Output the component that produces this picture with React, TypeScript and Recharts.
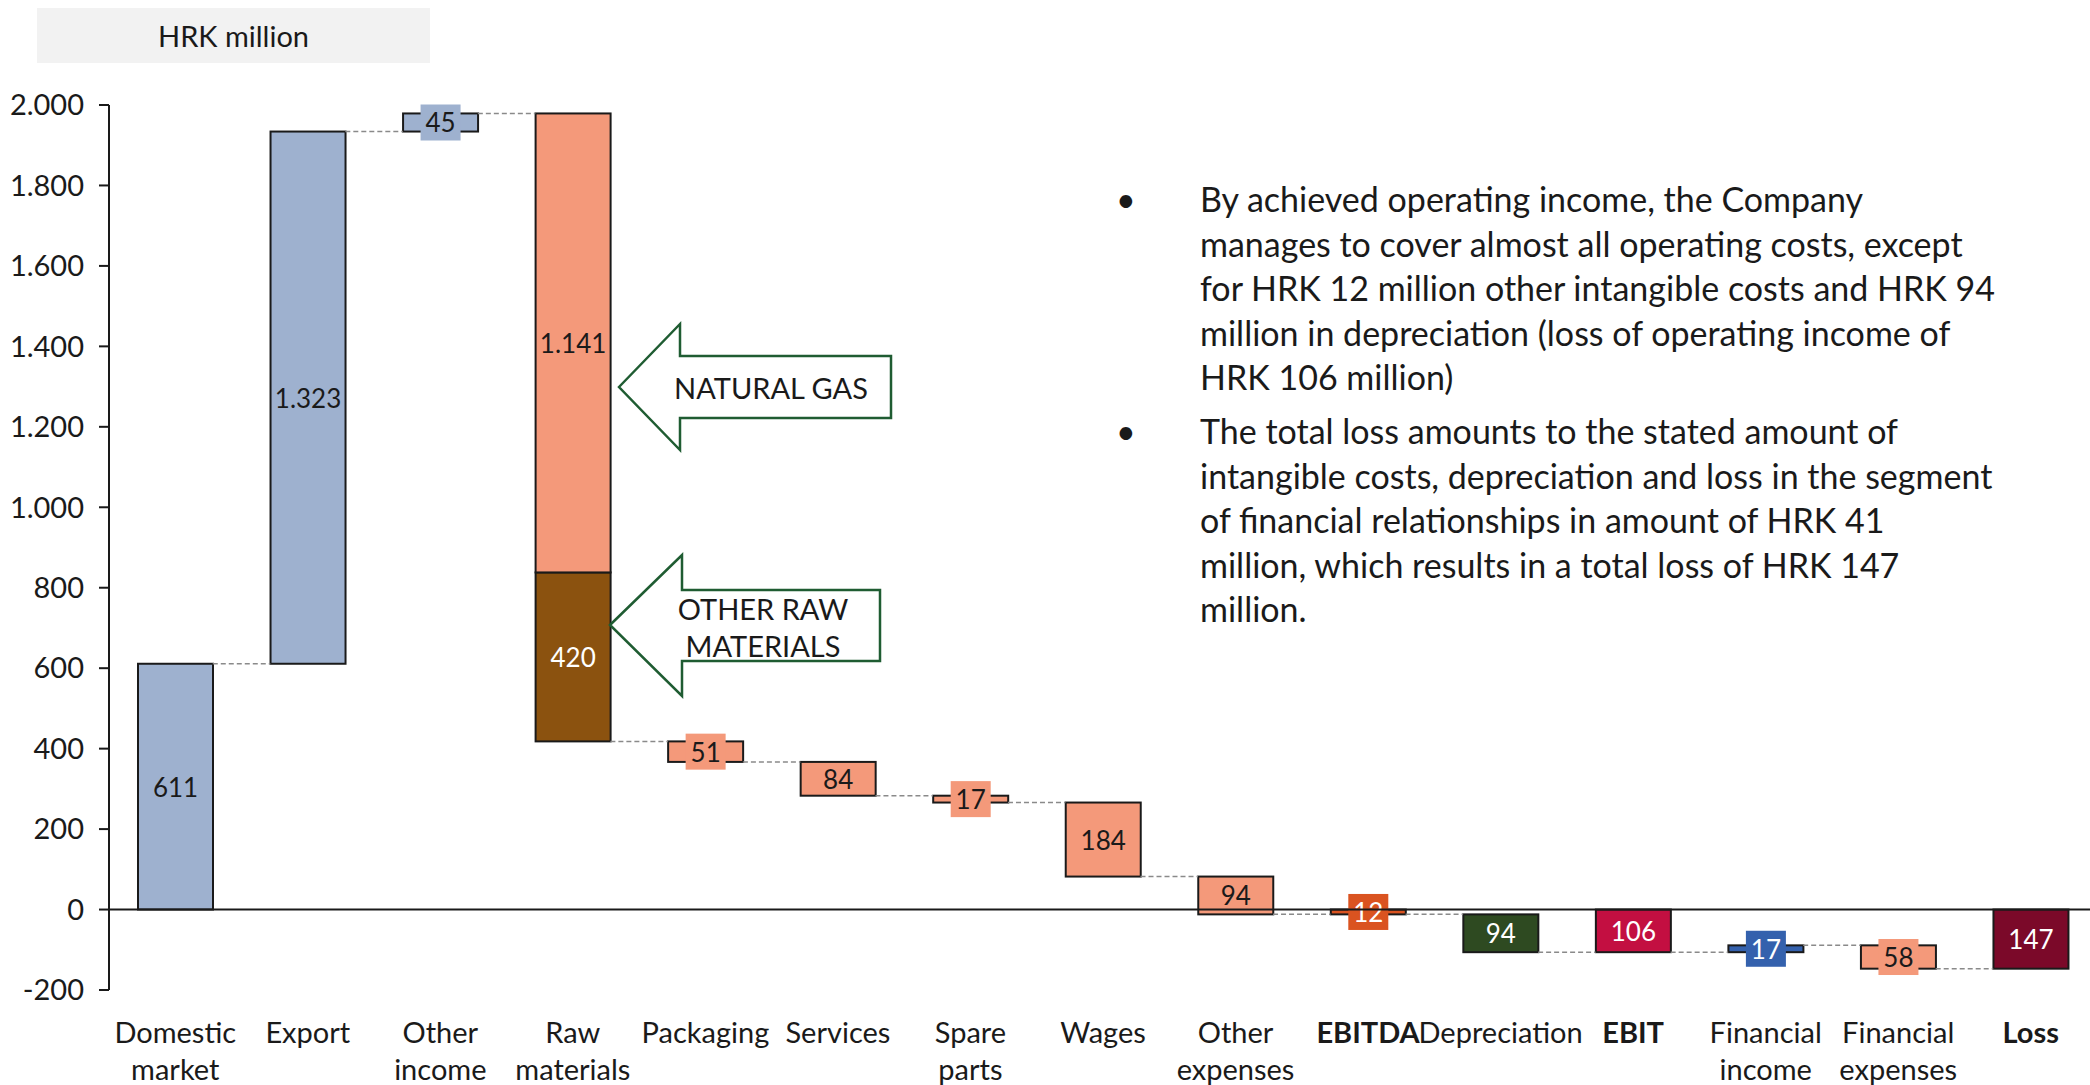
import React from 'react'
import { ComposedChart, Bar, Line, XAxis, YAxis, ReferenceLine } from 'recharts'

const categories = [
    'Domestic\nmarket', 'Export', 'Other\nincome', 'Raw\nmaterials', 'Packaging', 'Services', 'Spare\nparts',
    'Wages', 'Other\nexpenses', 'EBITDA', 'Depreciation', 'EBIT', 'Financial\nincome', 'Financial\nexpenses', 'Loss',
]
const naturalGas = 1141
const otherRawMaterials = 420
const amounts = [611, 1323, 45, -(naturalGas + otherRawMaterials), -51, -84, -17, -184, -94, -12, -94, -106, 17, -58, -147]
const subtotal = [false, false, false, false, false, false, false, false, false, true, false, true, false, false, true]
const yTicks = [-200, 0, 200, 400, 600, 800, 1000, 1200, 1400, 1600, 1800, 2000]
const xDomain = [-0.5, categories.length - 0.5]

const notes = [
    [
        'By achieved operating income, the Company',
        'manages to cover almost all operating costs, except',
        'for HRK 12 million other intangible costs and HRK 94',
        'million in depreciation (loss of operating income of',
        'HRK 106 million)',
    ],
    [
        'The total loss amounts to the stated amount of',
        'intangible costs, depreciation and loss in the segment',
        'of financial relationships in amount of HRK 41',
        'million, which results in a total loss of HRK 147',
        'million.',
    ],
]

// styles
const INK = '#1a1a1a'
const SALMON = '#F4997A'
const BLUEGREY = '#9EB1CF'
const fills = [BLUEGREY, BLUEGREY, BLUEGREY, '#8B520F', SALMON, SALMON, SALMON, SALMON, SALMON, '#DA5320', '#2E4A21', '#C30F41', '#3461AD', SALMON, '#7B0929']
const labelInk = [INK, INK, INK, '#fff', INK, INK, INK, INK, INK, '#fff', '#fff', '#fff', '#fff', INK, '#fff']
const labelBox = [false, false, true, false, true, false, true, false, false, true, false, false, true, true, false]
const BAR_SIZE = 75
const BAR_HALF = 0.283 // half bar width in category units

const RAW = 3
let running = 0
const rows = categories.map((name, i) => {
    const amt = amounts[i]
    let lo: number, hi: number
    if (subtotal[i]) {
        lo = Math.min(0, amt); hi = Math.max(0, amt); running = amt
    } else {
        const next = running + amt
        lo = Math.min(running, next); hi = Math.max(running, next); running = next
    }
    let label = Math.abs(amt)
    let split: number[] | null = null
    let splitLabel: number | null = null
    if (i === RAW) {
        split = [lo + otherRawMaterials, hi]
        hi = lo + otherRawMaterials
        label = otherRawMaterials
        splitLabel = naturalGas
    }
    return { idx: i, name, range: [lo, hi], split, label, splitLabel, level: running }
})
const baseline = xDomain.map(v => ({ idx: v, zero: 0 }))

const fmt = (v: number) => {
    const s = Math.abs(v).toString().replace(/\B(?=(\d{3})+(?!\d))/g, '.')
    return v < 0 ? '-' + s : s
}

const makeShape = (series: 'main' | 'split') => (props: any) => {
    const { x, y, width, height, payload } = props
    const index = payload ? payload.idx : props.index
    const row = rows[index]
    if (!row || (series === 'split' && !row.split)) return <g />
    if ([x, y, width, height].some(v => v == null || isNaN(v))) return <g />
    const fill = series === 'split' ? SALMON : fills[index]
    const value = series === 'split' ? row.splitLabel! : row.label
    const ink = series === 'split' ? INK : labelInk[index]
    const boxed = series === 'main' && labelBox[index]
    const cx = x + width / 2
    const cy = y + height / 2
    const text = fmt(value)
    const tw = text.length * 15 + 10
    return (
        <g>
            <rect x={x} y={y} width={width} height={height} fill={fill} stroke={INK} strokeWidth={2} />
            {boxed && <rect x={cx - tw / 2} y={cy - 18} width={tw} height={36} fill={fill} />}
            <text x={cx} y={cy} textAnchor="middle" dominantBaseline="central" fontSize={26} fill={ink}>{text}</text>
        </g>
    )
}

const CategoryTick = (props: any) => {
    const { x, y, payload } = props
    const i = payload.value
    const lines = (categories[i] || '').split('\n')
    return (
        <g>
            {lines.map((ln, k) => (
                <text key={k} x={x} y={y + 53 + k * 37} textAnchor="middle" fontSize={29}
                    fontWeight={subtotal[i] ? 700 : 400} fill={INK}>{ln}</text>
            ))}
        </g>
    )
}

export default function App() {
    return (
        <div style={{ position: 'absolute', left: 0, top: 0, width: 2090, height: 1085, overflow: 'hidden', background: '#fff', fontFamily: 'Lato, sans-serif', color: INK }}>
            <ComposedChart width={2100} height={1085} data={rows} margin={{ top: 105, right: 3, bottom: 0, left: 0 }}>
                <XAxis xAxisId="main" dataKey="idx" type="number" domain={xDomain} ticks={categories.map((_, i) => i)}
                    interval={0} axisLine={false} tickLine={false} tickSize={0} tickMargin={0} height={95} tick={<CategoryTick />} />
                <XAxis xAxisId="split" dataKey="idx" type="number" domain={xDomain} orientation="top" height={0} hide />
                <XAxis xAxisId="base" dataKey="idx" type="number" domain={xDomain} orientation="top" height={0} hide />
                <YAxis domain={[-200, 2000]} ticks={yTicks} width={109} tickFormatter={fmt} interval={0}
                    tick={{ fill: INK, fontSize: 29 }} tickSize={10} tickMargin={15}
                    axisLine={{ stroke: INK, strokeWidth: 2 }} tickLine={{ stroke: INK, strokeWidth: 2 }} />
                {rows.slice(0, -1).map((r, i) => (
                    <ReferenceLine key={i} xAxisId="main" stroke="#8a8a8a" strokeWidth={1.5} strokeDasharray="5 3"
                        segment={[{ x: i + BAR_HALF, y: r.level }, { x: i + 1 - BAR_HALF, y: r.level }]} />
                ))}
                <Line xAxisId="base" data={baseline} dataKey="zero" type="linear" stroke={INK} strokeWidth={2}
                    dot={false} activeDot={false} legendType="none" isAnimationActive={false} />
                <Bar xAxisId="main" dataKey="range" barSize={BAR_SIZE} shape={makeShape('main')} isAnimationActive={false} />
                <Bar xAxisId="split" dataKey="split" barSize={BAR_SIZE} shape={makeShape('split')} isAnimationActive={false} />
            </ComposedChart>

            <div style={{ position: 'absolute', left: 37, top: 8, width: 393, height: 55, background: '#F2F2F2', fontSize: 29, lineHeight: '55px', textAlign: 'center' }}>
                HRK million
            </div>

            <svg width={2090} height={1085} style={{ position: 'absolute', left: 0, top: 0, pointerEvents: 'none' }}>
                <polygon points="619,387 680,324 680,356 891,356 891,418 680,418 680,450" fill="#fff" stroke="#1f5c32" strokeWidth={2.5} />
                <text x={771} y={387} textAnchor="middle" dominantBaseline="central" fontSize={29} fill={INK}>NATURAL GAS</text>
                <polygon points="610,625 682,555 682,590 880,590 880,661 682,661 682,696" fill="#fff" stroke="#1f5c32" strokeWidth={2.5} />
                <text x={763} y={608} textAnchor="middle" dominantBaseline="central" fontSize={29} fill={INK}>OTHER RAW</text>
                <text x={763} y={645} textAnchor="middle" dominantBaseline="central" fontSize={29} fill={INK}>MATERIALS</text>
            </svg>

            {notes.map((para, p) => (
                <div key={p} style={{ position: 'absolute', left: 1110, top: p === 0 ? 177 : 409, fontSize: 34, lineHeight: '44.6px' }}>
                    <span style={{ position: 'absolute', left: 6, top: 0 }}>•</span>
                    <div style={{ marginLeft: 90, whiteSpace: 'pre' }}>
                        {para.map((ln, k) => <div key={k}>{ln}</div>)}
                    </div>
                </div>
            ))}
        </div>
    )
}
